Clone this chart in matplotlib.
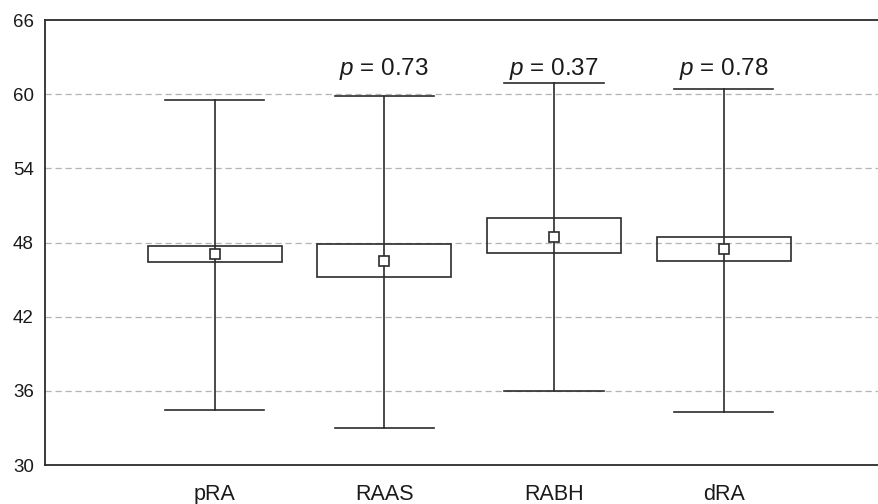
import matplotlib
matplotlib.use("Agg")
import matplotlib.pyplot as plt
from matplotlib.patches import Rectangle

plt.rcParams['font.family'] = ['Liberation Sans', 'DejaVu Sans']
plt.rcParams['mathtext.fontset'] = 'custom'
plt.rcParams['mathtext.it'] = 'Liberation Sans:italic'
plt.rcParams['mathtext.rm'] = 'Liberation Sans'

categories = ['pRA', 'RAAS', 'RABH', 'dRA']
means = [47.04, 46.5, 48.44, 47.47]
box_low = [46.4, 45.23, 47.15, 46.53]
box_high = [47.74, 47.88, 50.0, 48.42]
whisk_low = [34.47, 33.0, 36.0, 34.26]
whisk_high = [59.53, 59.88, 60.93, 60.42]
p_labels = ['', r'$p$ = 0.73', r'$p$ = 0.37', r'$p$ = 0.78']
yticks = [30, 36, 42, 48, 54, 60, 66]

W, H = 879, 504
fig = plt.figure(figsize=(W / 100, H / 100), dpi=100)
ax = fig.add_axes([45 / W, (H - 465) / H, 1 - 45 / W, (465 - 20) / H])

ink = '#2b2b2b'
box_w = 0.79
cap_w = 0.585
xs = list(range(1, len(categories) + 1))

for y in yticks[1:-1]:
    ax.axhline(y, color='#b4b4b4', lw=0.9, linestyle=(0, (5, 3)), zorder=0)

for x, lo, hi, bl, bh, m, lab in zip(xs, whisk_low, whisk_high, box_low, box_high, means, p_labels):
    ax.plot([x, x], [lo, hi], color=ink, lw=1.2, zorder=2)
    ax.plot([x - cap_w / 2, x + cap_w / 2], [lo, lo], color=ink, lw=1.2, zorder=2)
    ax.plot([x - cap_w / 2, x + cap_w / 2], [hi, hi], color=ink, lw=1.2, zorder=2)
    ax.add_patch(Rectangle((x - box_w / 2, bl), box_w, bh - bl, facecolor='none',
                           edgecolor=ink, lw=1.2, zorder=3))
    ax.plot([x], [m], marker='s', markersize=7.2, markerfacecolor='white',
            markeredgecolor=ink, markeredgewidth=1.2, zorder=4)
    if lab:
        ax.text(x, 61.55, lab, ha='center', va='baseline', fontsize=17.5, color='#1a1a1a')

ax.set_xlim(0, (W - 45) / 169.7)
ax.set_ylim(30, 66)
ax.set_yticks(yticks)
ax.set_xticks(xs)
ax.set_xticklabels(categories)
ax.tick_params(axis='y', length=0, pad=8, labelsize=13.5, labelcolor='#1a1a1a')
ax.tick_params(axis='x', length=0, pad=14, labelsize=15.5, labelcolor='#1a1a1a')
for s in ['left', 'bottom', 'top']:
    ax.spines[s].set_color(ink)
    ax.spines[s].set_linewidth(1.3)
ax.spines['right'].set_visible(False)

fig.savefig('out.png', dpi=100)
